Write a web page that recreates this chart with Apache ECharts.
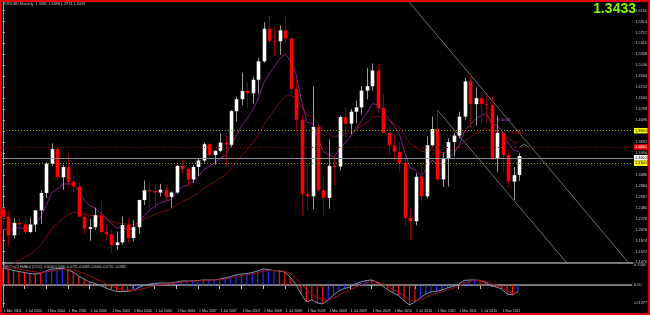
<!DOCTYPE html>
<html><head><meta charset="utf-8">
<script src="https://cdn.jsdelivr.net/npm/echarts@6/dist/echarts.min.js"></script>
<style>html,body{margin:0;padding:0;background:#000;}#c{width:650px;height:315px;}</style>
</head><body><div id="c"></div>
<script>
// ---- data: EURUSD monthly, Mar 2004 .. Feb 2012 ----
const open = [1.2460,1.2310,1.1970,1.2200,1.2170,1.2030,1.2170,1.2430,1.2750,1.3290,
1.3560,1.3040,1.3230,1.2960,1.2870,1.2310,1.2090,1.2120,1.2340,1.2030,
1.1990,1.1790,1.1840,1.2160,1.1920,1.2120,1.2620,1.2800,1.2790,1.2760,
1.2810,1.2680,1.2760,1.3250,1.3190,1.3000,1.3230,1.3350,1.3650,1.3450,
1.3530,1.3680,1.3640,1.4260,1.4480,1.4630,1.4590,1.4840,1.5180,1.5780,
1.5560,1.5550,1.5750,1.5600,1.4670,1.4100,1.2730,1.2690,1.3970,1.2800,
1.2660,1.3250,1.3240,1.4150,1.4030,1.4250,1.4330,1.4640,1.4720,1.5010,
1.4320,1.3860,1.3630,1.3510,1.3300,1.2290,1.2230,1.3050,1.2690,1.3630,
1.3930,1.3000,1.3380,1.3690,1.3810,1.4160,1.4810,1.4390,1.4500,1.4390,
1.4370,1.3385,1.3860,1.3450,1.2960,1.3082];
const high = [1.2480,1.2420,1.2280,1.2280,1.2330,1.2300,1.2440,1.2800,1.3320,1.3667,
1.3580,1.3270,1.3470,1.3090,1.2940,1.2390,1.2270,1.2480,1.2580,1.2160,
1.2080,1.2040,1.2320,1.2280,1.2250,1.2630,1.2980,1.2950,1.2910,1.2920,
1.2900,1.2780,1.3270,1.3370,1.3210,1.3270,1.3390,1.3680,1.3680,1.3530,
1.3850,1.3810,1.4280,1.4530,1.4970,1.4800,1.4900,1.5240,1.5900,1.6020,
1.5820,1.5840,1.6038,1.5630,1.4870,1.4190,1.3300,1.4720,1.4000,1.3050,
1.3740,1.3440,1.4180,1.4340,1.4300,1.4450,1.4720,1.5060,1.5140,1.5140,
1.4580,1.3990,1.3830,1.3690,1.3390,1.2470,1.3120,1.3330,1.3790,1.4160,
1.4280,1.3500,1.3760,1.3860,1.4250,1.4880,1.4940,1.4700,1.4580,1.4550,
1.4550,1.4180,1.3880,1.3550,1.3230,1.3488];
const low = [1.2080,1.1760,1.1910,1.1970,1.2000,1.2010,1.2030,1.2180,1.2660,1.3250,
1.2990,1.2810,1.2870,1.2760,1.2300,1.1990,1.1870,1.2070,1.2000,1.1870,
1.1640,1.1700,1.1800,1.1830,1.1860,1.2000,1.2530,1.2460,1.2450,1.2690,
1.2620,1.2480,1.2740,1.3100,1.2860,1.2930,1.3070,1.3310,1.3410,1.3270,
1.3500,1.3260,1.3590,1.4070,1.4370,1.4330,1.4400,1.4580,1.5150,1.5510,
1.5280,1.5300,1.5520,1.4580,1.3880,1.2330,1.2420,1.2450,1.2760,1.2330,
1.2460,1.2890,1.3160,1.3750,1.3830,1.4040,1.4200,1.4480,1.4640,1.4220,
1.3860,1.3440,1.3330,1.3150,1.2140,1.1876,1.2150,1.2590,1.2650,1.3610,
1.2970,1.2860,1.2870,1.3430,1.3750,1.4100,1.3970,1.4000,1.4050,1.4050,
1.3360,1.3140,1.3140,1.2860,1.2620,1.2974];
const close = [1.2310,1.1970,1.2200,1.2170,1.2030,1.2170,1.2430,1.2750,1.3290,1.3560,
1.3040,1.3230,1.2960,1.2870,1.2310,1.2090,1.2120,1.2340,1.2030,1.1990,
1.1790,1.1840,1.2160,1.1920,1.2120,1.2620,1.2800,1.2790,1.2760,1.2810,
1.2680,1.2760,1.3250,1.3190,1.3000,1.3230,1.3350,1.3650,1.3450,1.3530,
1.3680,1.3640,1.4260,1.4480,1.4630,1.4590,1.4840,1.5180,1.5780,1.5560,
1.5550,1.5750,1.5600,1.4670,1.4100,1.2730,1.2690,1.3970,1.2800,1.2660,
1.3250,1.3240,1.4150,1.4030,1.4250,1.4330,1.4640,1.4720,1.5010,1.4320,
1.3860,1.3630,1.3510,1.3300,1.2290,1.2230,1.3050,1.2690,1.3630,1.3930,
1.3000,1.3380,1.3690,1.3810,1.4160,1.4810,1.4390,1.4500,1.4390,1.4370,
1.3385,1.3860,1.3450,1.2960,1.3080,1.3433];
const maFast = [1.2088,1.2062,1.2093,1.2110,1.2092,1.2109,1.2180,1.2307,1.2525,1.2755,
1.2818,1.2910,1.2921,1.2910,1.2777,1.2624,1.2512,1.2474,1.2375,1.2289,
1.2178,1.2103,1.2116,1.2072,1.2083,1.2202,1.2335,1.2436,1.2508,1.2575,
1.2598,1.2634,1.2771,1.2864,1.2894,1.2969,1.3054,1.3186,1.3245,1.3308,
1.3391,1.3446,1.3627,1.3817,1.3998,1.4130,1.4288,1.4486,1.4774,1.4949,
1.5083,1.5231,1.5313,1.5170,1.4932,1.4443,1.4053,1.4035,1.3761,1.3516,
1.3457,1.3409,1.3574,1.3675,1.3803,1.3920,1.4080,1.4222,1.4397,1.4380,
1.4264,1.4123,1.3987,1.3834,1.3491,1.3211,1.3175,1.3067,1.3192,1.3356,
1.3277,1.3300,1.3387,1.3481,1.3632,1.3894,1.4004,1.4114,1.4175,1.4218,
1.4033,1.3995,1.3874,1.3671,1.3540,1.3516];
const maSlow = [1.1297,1.1361,1.1441,1.1510,1.1560,1.1618,1.1695,1.1796,1.1938,1.2093,
1.2183,1.2283,1.2347,1.2397,1.2389,1.2361,1.2338,1.2338,1.2309,1.2279,
1.2232,1.2195,1.2192,1.2166,1.2162,1.2206,1.2262,1.2312,1.2355,1.2398,
1.2425,1.2457,1.2533,1.2596,1.2634,1.2691,1.2754,1.2839,1.2897,1.2957,
1.3026,1.3084,1.3196,1.3318,1.3443,1.3552,1.3675,1.3818,1.4005,1.4153,
1.4286,1.4425,1.4537,1.4550,1.4507,1.4338,1.4181,1.4161,1.4031,1.3900,
1.3838,1.3781,1.3816,1.3836,1.3875,1.3918,1.3987,1.4057,1.4148,1.4164,
1.4135,1.4087,1.4032,1.3962,1.3803,1.3653,1.3596,1.3510,1.3521,1.3560,
1.3507,1.3495,1.3514,1.3542,1.3601,1.3716,1.3780,1.3849,1.3900,1.3945,
1.3892,1.3889,1.3847,1.3763,1.3698,1.3673];
const macdMain = [0.1292,0.1216,0.1102,0.1026,0.0950,0.0874,0.0836,0.0912,0.1064,0.1216,
0.1254,0.1254,0.1140,0.0988,0.0684,0.0456,0.0228,0.0114,-0.0038,-0.0228,
-0.0380,-0.0494,-0.0494,-0.0494,-0.0418,-0.0228,-0.0038,0.0076,0.0114,0.0152,
0.0152,0.0152,0.0228,0.0304,0.0304,0.0304,0.0342,0.0380,0.0380,0.0380,
0.0456,0.0532,0.0646,0.0760,0.0836,0.0874,0.0950,0.1064,0.1216,0.1178,
0.1102,0.1064,0.0988,0.0608,0.0076,-0.0684,-0.1292,-0.1140,-0.1368,-0.1444,
-0.1140,-0.0760,-0.0456,-0.0266,-0.0152,0.0076,0.0228,0.0342,0.0380,0.0228,
-0.0076,-0.0380,-0.0608,-0.0798,-0.1216,-0.1520,-0.1292,-0.0988,-0.0684,-0.0532,
-0.0494,-0.0380,-0.0228,-0.0114,0.0038,0.0342,0.0380,0.0380,0.0342,0.0228,
-0.0076,-0.0152,-0.0304,-0.0684,-0.0760,-0.0483];
const macdSignal = [0.1368,0.1330,0.1292,0.1216,0.1140,0.1064,0.0988,0.0950,0.0988,0.1064,
0.1140,0.1178,0.1178,0.1140,0.1026,0.0874,0.0684,0.0494,0.0304,0.0114,
-0.0076,-0.0228,-0.0342,-0.0418,-0.0418,-0.0380,-0.0266,-0.0152,-0.0038,0.0038,
0.0091,0.0122,0.0167,0.0228,0.0266,0.0289,0.0312,0.0342,0.0357,0.0372,
0.0403,0.0456,0.0532,0.0608,0.0699,0.0775,0.0851,0.0935,0.1049,0.1102,
0.1102,0.1087,0.1049,0.0874,0.0570,0.0114,-0.0380,-0.0684,-0.0950,-0.1140,
-0.1140,-0.0988,-0.0798,-0.0570,-0.0380,-0.0190,0.0000,0.0152,0.0266,0.0251,
0.0114,-0.0114,-0.0342,-0.0532,-0.0836,-0.1140,-0.1216,-0.1140,-0.0950,-0.0760,
-0.0646,-0.0532,-0.0380,-0.0266,-0.0114,0.0114,0.0266,0.0342,0.0357,0.0304,
0.0114,-0.0038,-0.0190,-0.0456,-0.0646,-0.0608];
const timeLabels = ['1 Mar 2004','1 Jul 2004','1 Nov 2004','1 Mar 2005','1 Jul 2005','1 Nov 2005',
'1 Mar 2006','1 Jul 2006','1 Nov 2006','1 Mar 2007','1 Jul 2007','1 Nov 2007',
'1 Mar 2008','1 Jul 2008','1 Nov 2008','1 Mar 2009','1 Jul 2009','1 Nov 2009',
'1 Mar 2010','1 Jul 2010','1 Nov 2010','1 Mar 2011','1 Jul 2011','1 Nov 2011'];
const priceTicks = [1.1470,1.1672,1.1874,1.2076,1.2278,1.2480,1.2682,1.2884,1.3086,1.3288,1.3490,
1.3692,1.3894,1.4096,1.4298,1.4500,1.4702,1.4904,1.5106,1.5308,1.5510,1.5712,1.5914,1.6116];
const macdTicks = [0.1564, 0, -0.1377];
const levelYellowHigh = 1.3852, levelRed = 1.3623, levelBid = 1.3433, levelYellowLow = 1.3328;
const channelUpper = [[72, 1.6603], [116, 1.1366]];
const channelLower = [[80, 1.4280], [116, 1.0014]];
const peakMark = [[95.1, 1.3594], [96.0, 1.3654], [96.8, 1.3594]];
const noteAt = [[91.0, 1.4097], [93.6, 1.3852]];
const noteText = ['1.4068', '1.3857'];
const noteColor = ['#c050d0', '#d01818'];
const titleText = 'EURUSD,Monthly  1.3082 1.3488 1.2974 1.3433';
const macdTitle = 'MACD of 3 EMA(s) (13,50)  0.0000 0.0000 -0.0752 -0.0483 -0.0400 -0.0752 -0.0482';

// ---- chart ----
const FONT = 'Liberation Sans';
const AX = '#c8c8c8';
const chart = echarts.init(document.getElementById('c'), null, {width: 650, height: 315});
const candleData = close.map((c, i) => [i, open[i], high[i], low[i], c]);
const xy = arr => arr.map((v, i) => [i, v]);
const X_MIN = -0.51, X_MAX = 115.96;

function boxLabel(bg, fg) {
  return {show: true, position: 'end', distance: 1, formatter: p => p.value.toFixed(4),
    backgroundColor: bg, color: fg, fontSize: 3.8, fontFamily: FONT, padding: [0.5, 1, 0, 1], lineHeight: 5};
}

chart.setOption({
  backgroundColor: '#000',
  animation: false,
  grid: [
    {left: 0, right: 13.5, top: 2, height: 261},
    {left: 0, right: 13.5, top: 263.5, height: 44}
  ],
  xAxis: [
    {type: 'value', gridIndex: 0, min: X_MIN, max: X_MAX, axisLine: {show: true, lineStyle: {color: '#9a9a9a', width: 1.5}},
      axisTick: {show: false}, axisLabel: {show: false}, splitLine: {show: false}},
    {type: 'value', gridIndex: 1, min: X_MIN, max: X_MAX, axisLine: {show: true, lineStyle: {color: '#9a9a9a', width: 1.5}},
      axisTick: {show: true, length: 4, lineStyle: {color: AX}, customValues: timeLabels.map((_, k) => 4 * k)},
      axisLabel: {show: true, color: AX, fontSize: 3.5, fontFamily: FONT, align: 'left', margin: 1.5, padding: [0, 0, 0, 1],
        hideOverlap: false, showMinLabel: true, showMaxLabel: true,
        customValues: timeLabels.map((_, k) => 4 * k), formatter: v => timeLabels[Math.round(v / 4)] || ''},
      splitLine: {show: false}}
  ],
  yAxis: [
    {type: 'value', gridIndex: 0, position: 'right', min: 1.1459, max: 1.6274,
      axisLine: {show: true, lineStyle: {color: '#9a9a9a', width: 1}}, splitLine: {show: false},
      axisTick: {show: true, length: 2, lineStyle: {color: AX}, customValues: priceTicks},
      axisLabel: {color: AX, fontSize: 3.8, fontFamily: FONT, margin: 2.5, hideOverlap: false, customValues: priceTicks, formatter: v => v.toFixed(4)}},
    {type: 'value', gridIndex: 1, position: 'right', min: -0.1717, max: 0.1640,
      axisLine: {show: true, lineStyle: {color: '#9a9a9a', width: 1}}, splitLine: {show: false},
      axisTick: {show: true, length: 2, lineStyle: {color: AX}, customValues: macdTicks},
      axisLabel: {color: AX, fontSize: 3.8, fontFamily: FONT, margin: 2.5, hideOverlap: false, customValues: macdTicks,
        formatter: v => (v === 0 ? '0.00' : v.toFixed(4))}}
  ],
  series: [
    {type: 'line', name: 'channelUpper', xAxisIndex: 0, yAxisIndex: 0, data: channelUpper, showSymbol: false,
      lineStyle: {color: '#8c8c8c', width: 0.8}, silent: true, clip: true, z: 1},
    {type: 'line', name: 'channelLower', xAxisIndex: 0, yAxisIndex: 0, data: channelLower, showSymbol: false,
      lineStyle: {color: '#8c8c8c', width: 0.8}, silent: true, clip: true, z: 1},
    {type: 'line', name: 'maSlow', xAxisIndex: 0, yAxisIndex: 0, data: xy(maSlow), showSymbol: false,
      lineStyle: {color: '#7d0c0c', width: 1}, clip: true, z: 2},
    {type: 'line', name: 'maFast', xAxisIndex: 0, yAxisIndex: 0, data: xy(maFast), showSymbol: false,
      lineStyle: {color: '#8e1a8e', width: 1}, clip: true, z: 2,
      markLine: {symbol: 'none', silent: true, animation: false,
        data: [
          {yAxis: levelYellowHigh, lineStyle: {color: '#9c9c00', type: [1, 2], width: 1}, label: boxLabel('#ffff00', '#000')},
          {yAxis: levelRed, lineStyle: {color: '#a00000', type: [1, 2], width: 1}, label: boxLabel('#ff0000', '#fff')},
          {yAxis: levelBid, lineStyle: {color: '#8a909c', type: 'solid', width: 1}, label: boxLabel('#ffffff', '#000')},
          {yAxis: levelYellowLow, lineStyle: {color: '#9c9c00', type: [1, 2], width: 1}, label: boxLabel('#ffff00', '#000')}
        ]}},
    {type: 'line', name: 'peakMark', xAxisIndex: 0, yAxisIndex: 0, data: peakMark, showSymbol: false,
      lineStyle: {color: '#a0a0a0', width: 0.8}, silent: true, z: 4},
    {type: 'custom', name: 'priceNotes', xAxisIndex: 0, yAxisIndex: 0, data: noteAt, z: 6, silent: true,
      encode: {x: 0, y: 1},
      renderItem: (params, api) => {
        const p = api.coord([api.value(0), api.value(1)]);
        const k = params.dataIndex;
        return {type: 'text', x: p[0], y: p[1],
          style: {text: noteText[k], fill: noteColor[k], fontSize: 4.2, fontFamily: FONT,
            align: 'left', verticalAlign: 'middle'}};
      }},
    {type: 'custom', name: 'EURUSD', xAxisIndex: 0, yAxisIndex: 0, data: candleData, z: 3,
      encode: {x: 0, y: [1, 2, 3, 4]},
      renderItem: (params, api) => {
        const i = api.value(0), o = api.value(1), h = api.value(2), l = api.value(3), c = api.value(4);
        const pO = api.coord([i, o]), pC = api.coord([i, c]), pH = api.coord([i, h]), pL = api.coord([i, l]);
        const up = c >= o;
        const cx = Math.round(pO[0]) + 0.5;
        const top = Math.min(pO[1], pC[1]), bot = Math.max(pO[1], pC[1]);
        return {type: 'group', children: [
          {type: 'line', shape: {x1: cx, y1: pH[1], x2: cx, y2: pL[1]},
            style: {stroke: up ? '#9a9a9a' : '#8a0000', lineWidth: 1}},
          {type: 'rect', shape: {x: cx - 1.8, y: top, width: 3.6, height: Math.max(1, bot - top)},
            style: {fill: up ? '#ffffff' : '#ff0000'}}
        ]};
      }},
    {type: 'bar', name: 'macdHist', xAxisIndex: 1, yAxisIndex: 1, data: xy(macdMain), barWidth: 1.2,
      itemStyle: {color: p => (macdMain[p.dataIndex] >= macdSignal[p.dataIndex] ? '#2030ff' : '#ff1010')},
      markLine: {symbol: 'none', silent: true, label: {show: false},
        data: [{yAxis: 0, lineStyle: {color: '#8a8a8a', type: [1, 2], width: 1}}]}},
    {type: 'line', name: 'macdMain', xAxisIndex: 1, yAxisIndex: 1, data: xy(macdMain), showSymbol: false,
      lineStyle: {color: '#7f93b8', width: 1}},
    {type: 'line', name: 'macdSignal', xAxisIndex: 1, yAxisIndex: 1, data: xy(macdSignal), showSymbol: false,
      lineStyle: {color: '#a01010', width: 1}}
  ],
  graphic: [
    {type: 'text', left: 3, top: 2, style: {text: titleText, fill: '#c8c8c8', fontSize: 3.8, fontFamily: FONT}},
    {type: 'text', right: 14, top: 2, style: {text: levelBid.toFixed(4), fill: '#7cfc00', fontSize: 14, fontWeight: 'bold', fontFamily: FONT}},
    {type: 'text', left: 3, top: 265.5, style: {text: macdTitle, fill: '#c8c8c8', fontSize: 3.3, fontFamily: FONT}},
    {type: 'rect', shape: {x: 1, y: 1, width: 648, height: 313}, style: {fill: null, stroke: '#e00000', lineWidth: 2}, silent: true, z: 100}
  ]
});
</script>
</body></html>
